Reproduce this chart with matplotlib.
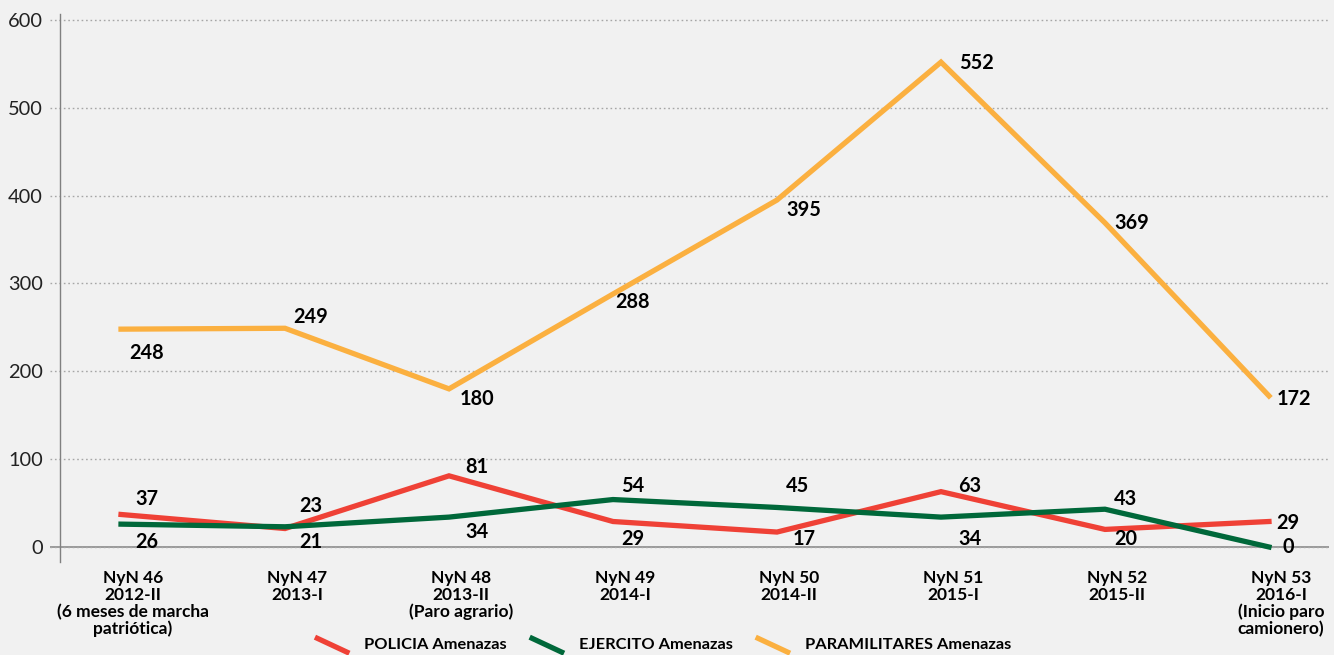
import matplotlib.pyplot as plt
import matplotlib.transforms as mtransforms
from matplotlib.lines import Line2D
from matplotlib.legend_handler import HandlerBase

plt.rcParams['font.family'] = ['Lato', 'DejaVu Sans']

# datos
categorias = ['NyN 46\n2012-II\n(6 meses de marcha\npatriótica)',
              'NyN 47\n2013-I',
              'NyN 48\n2013-II\n(Paro agrario)',
              'NyN 49\n2014-I',
              'NyN 50\n2014-II',
              'NyN 51\n2015-I',
              'NyN 52\n2015-II',
              'NyN 53\n2016-I\n(Inicio paro\ncamionero)']
policia = [37, 21, 81, 29, 17, 63, 20, 29]
ejercito = [26, 23, 34, 54, 45, 34, 43, 0]
paramilitares = [248, 249, 180, 288, 395, 552, 369, 172]
y_ticks = [0, 100, 200, 300, 400, 500, 600]

# desplazamiento de etiquetas (pixeles)
off_para = [(26, -24), (26, 11), (28, -10), (20, -8), (27, -10), (35, -1), (27, 0), (25, -3)]
off_pol = [(26, 15), (26, -13), (28, 9), (20, -17), (27, -7), (29, 6), (21, -10), (19, -1)]
off_ejc = [(26, -18), (26, 21), (28, -15), (20, 14), (21, 21), (29, -22), (21, 10), (19, 0)]

c_pol = '#EF4136'
c_ejc = '#00683A'
c_para = '#FBB040'
bg = '#F1F1F1'

W, H = 1334, 655
fig = plt.figure(figsize=(W / 100, H / 100), dpi=100, facecolor=bg)
ax = fig.add_axes([50 / W, 1 - 562 / H, (1329 - 50) / W, (562 - 14) / H])
ax.set_facecolor(bg)

x = list(range(len(categorias)))
ax.plot(x, policia, color=c_pol, lw=3.8, solid_joinstyle='miter', label='POLICIA Amenazas', zorder=3)
ax.plot(x, ejercito, color=c_ejc, lw=3.8, solid_joinstyle='miter', label='EJERCITO Amenazas', zorder=3)
ax.plot(x, paramilitares, color=c_para, lw=3.8, solid_joinstyle='miter', label='PARAMILITARES Amenazas', zorder=3)

for serie, offs in [(paramilitares, off_para), (policia, off_pol), (ejercito, off_ejc)]:
    for i, v in enumerate(serie):
        ax.annotate(str(v), (i, v), xytext=offs[i], textcoords='offset pixels',
                    ha='center', va='center', fontsize=14.3, fontweight='bold',
                    color='black', zorder=4)

ax.set_xlim(-0.433, 7.366)
ax.set_ylim(-17.1, 606.8)
ax.set_yticks(y_ticks)
ax.set_xticks(x)
ax.set_xticklabels(categorias, fontsize=12.5, fontweight='bold', linespacing=1.05)
ax.tick_params(axis='y', length=0, pad=12.2, labelsize=14.4, labelcolor='#222222')
ax.tick_params(axis='x', length=0, pad=6)
shift = mtransforms.ScaledTranslation(12 / 100, 0, fig.dpi_scale_trans)
for lab in ax.get_xticklabels():
    lab.set_transform(lab.get_transform() + shift)

ax.grid(axis='y', color='#A6A6A6', linestyle=(0, (1.2, 2.0)), linewidth=1.0, zorder=0)
ax.axhline(0, color='#8C8C8C', linewidth=1.2, zorder=1)
for s in ['top', 'right', 'bottom']:
    ax.spines[s].set_visible(False)
ax.spines['left'].set_position(('axes', 10 / (1329 - 50)))
ax.spines['left'].set_color('#808080')
ax.spines['left'].set_linewidth(1.0)


class DiagHandler(HandlerBase):
    # trazo diagonal como en la leyenda original
    def create_artists(self, legend, orig_handle, xdescent, ydescent,
                       width, height, fontsize, trans):
        line = Line2D([-xdescent, -xdescent + width],
                      [-ydescent + height * 1.05, -ydescent - height * 0.35])
        self.update_prop(line, orig_handle, legend)
        line.set_solid_capstyle('butt')
        line.set_transform(trans)
        return [line]


handles, labels = ax.get_legend_handles_labels()
fig.legend(handles, labels, loc='center', bbox_to_anchor=(663 / W, 1 - 645 / H),
           ncol=3, frameon=False, handler_map={Line2D: DiagHandler()},
           prop={'weight': 'bold', 'size': 11.8}, handlelength=2.1,
           handletextpad=0.9, columnspacing=1.4)

fig.savefig('out.png', dpi=100, facecolor=bg)
